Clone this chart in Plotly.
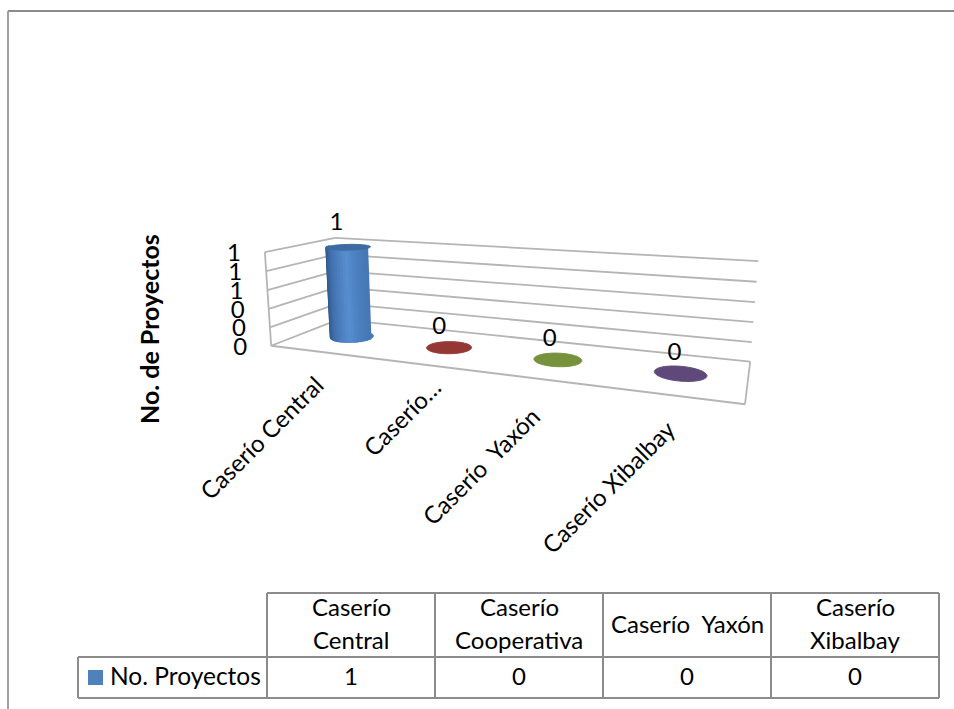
import numpy as np
import plotly.graph_objects as go

# ---------- data ----------
categories = ["Caserío Central", "Caserío Cooperativa", "Caserío\u00a0 Yaxón", "Caserío Xibalbay"]
axis_labels = ["Caserío Central", "Caserío…", "Caserío\u00a0 Yaxón", "Caserío Xibalbay"]
header_lines = [["Caserío", "Central"], ["Caserío", "Cooperativa"], ["Caserío\u00a0 Yaxón"], ["Caserío", "Xibalbay"]]
values = [1, 0, 0, 0]
series_name = "No. Proyectos"
axis_title = "No. de Proyectos"
ticks = [0, 0.2, 0.4, 0.6, 0.8, 1.0]

# ---------- style / layout ----------
FONT = "Lato"
TXT = "#000000"
GRID = "#b5b5b5"
BORDER = "#8c8c8c"
top_colors = ["#3c6ba3", "#953735", "#76923C", "#5F497A"]
label_offsets = [(-12, -23), (-10, -19), (-8, -20), (-6, -19)]
label_centers = [(261, 437), (401, 417), (480, 466), (608, 486)]
FS = 24

# perspective of the plot box, fitted to its corners (u, depth, value) -> pixel
box = [((0, 0, 0), (273, 346)), ((1, 0, 0), (745, 404)), ((1, 1, 0), (750.5, 362)),
       ((0, 1, 0), (337, 319)), ((0, 0, 1), (263, 252)), ((0, 1, 1), (337, 238)),
       ((1, 1, 1), (758, 261))]
A = []
for (X, Y, Z), (px, py) in box:
    px, py = px / 1000, py / 1000
    A.append([X, Y, Z, 1, 0, 0, 0, 0, -px * X, -px * Y, -px * Z, -px])
    A.append([0, 0, 0, 0, X, Y, Z, 1, -py * X, -py * Y, -py * Z, -py])
M = np.linalg.svd(np.array(A, float))[2][-1].reshape(3, 4)


def proj(u, d, z):
    u, d, z = np.broadcast_arrays(np.asarray(u, float), np.asarray(d, float), np.asarray(z, float))
    h = M @ np.stack([u, d, z, np.ones_like(u)])
    return h[0] / h[2] * 1000, h[1] / h[2] * 1000


def poly(xs, ys, color, lw=1.0):
    return go.Scatter(x=xs, y=ys, mode="lines", fill="toself", fillcolor=color,
                      line=dict(color=color, width=lw, simplify=False),
                      hoverinfo="skip", showlegend=False)


def mix(stops, t):
    pos = [s[0] for s in stops]
    ch = [np.interp(t, pos, [s[1][i] for s in stops]) for i in range(3)]
    return "rgb(%d,%d,%d)" % tuple(int(c) for c in ch)


shade = [(0, (70, 120, 182)), (0.28, (88, 142, 208)), (0.65, (66, 114, 176)), (1, (42, 82, 128))]

fig = go.Figure()

# walls and floor
gx, gy = [], []


def seg(a, b):
    xs, ys = proj([a[0], b[0]], [a[1], b[1]], [a[2], b[2]])
    gx.extend(list(xs) + [None])
    gy.extend(list(ys) + [None])


for t in ticks:
    seg((0, 0, t), (0, 1, t))
    seg((0, 1, t), (1, 1, t))
seg((0, 0, 0), (0, 0, 1))
seg((0, 0, 0), (1, 0, 0))
seg((1, 0, 0), (1, 1, 0))
fig.add_trace(go.Scatter(x=gx, y=gy, mode="lines", line=dict(color=GRID, width=1.8),
                         hoverinfo="skip", showlegend=False))

# cylinders
ru, rd = 0.05, 0.18
theta = np.linspace(0, 2 * np.pi, 73)
front = np.linspace(np.pi, 2 * np.pi, 25)
for i, v in enumerate(values):
    uc = (i + 0.5) / len(values)
    if v > 0:
        bx, by = proj(uc + ru * np.cos(theta), 0.5 + rd * np.sin(theta), 0 * theta)
        fig.add_trace(poly(bx, by, mix(shade, 0.5)))
        for k in range(len(front) - 1):
            a = np.array([front[k], front[k + 1], front[k + 1], front[k]])
            zz = np.array([0, 0, v, v], float)
            sx, sy = proj(uc + ru * np.cos(a), 0.5 + rd * np.sin(a), zz)
            t = (1 - np.cos((front[k] + front[k + 1]) / 2)) / 2
            fig.add_trace(poly(sx, sy, mix(shade, t), lw=1.5))
    ex, ey = proj(uc + ru * np.cos(theta), 0.5 + rd * np.sin(theta), v + 0 * theta)
    fig.add_trace(poly(ex, ey, top_colors[i]))

# data labels
cx, cy = proj([(i + 0.5) / len(values) for i in range(len(values))], 0.5, values)
fig.add_trace(go.Scatter(x=[a + o[0] for a, o in zip(cx, label_offsets)],
                         y=[b + o[1] for b, o in zip(cy, label_offsets)],
                         mode="text", text=[str(v) for v in values],
                         textfont=dict(family=FONT, size=FS, color=TXT),
                         hoverinfo="skip", showlegend=False))

# value axis tick labels
tx, ty = proj(0, 0, ticks)
fig.add_trace(go.Scatter(x=tx - 31, y=ty + 3, mode="text", text=[f"{t:.0f}" for t in ticks],
                         textfont=dict(family=FONT, size=FS, color=TXT),
                         hoverinfo="skip", showlegend=False))

ann = []


def note(x, y, text, size=FS, angle=0, anchor="center", bold=False):
    ann.append(dict(x=x, y=y, xref="x", yref="y", text=f"<b>{text}</b>" if bold else text,
                    showarrow=False, textangle=angle, xanchor=anchor, yanchor="middle",
                    font=dict(family=FONT, size=size, color=TXT)))


note(149, 329, axis_title, size=25, angle=-90, bold=True)
for (x, y), lab in zip(label_centers, axis_labels):
    note(x, y, lab, angle=-45)

# data table
col_x = [267, 435, 603, 771, 939]
row_y = [593, 657, 698]
left_x = 78
shapes = []


def line(x0, y0, x1, y1, color=BORDER, w=2):
    shapes.append(dict(type="line", xref="x", yref="y", x0=x0, y0=y0, x1=x1, y1=y1,
                       line=dict(color=color, width=w)))


for x in col_x:
    line(x, row_y[0], x, row_y[2])
line(col_x[0], row_y[0], col_x[-1], row_y[0])
line(left_x, row_y[1], col_x[-1], row_y[1])
line(left_x, row_y[2], col_x[-1], row_y[2])
line(left_x, row_y[1], left_x, row_y[2])
shapes.append(dict(type="rect", xref="x", yref="y", x0=88, x1=103, y0=670, y1=685,
                   fillcolor="#4F81BD", line=dict(width=0)))
# outer frame of the picture
line(8, 11, 954, 11, "#8a8a8a", 2)
line(8, 11, 8, 709, "#a0a0a0", 2)

note(108, 675, series_name, size=24.5, anchor="left")
for i, lines in enumerate(header_lines):
    xc = (col_x[i] + col_x[i + 1]) / 2
    if len(lines) == 1:
        note(xc, 623, lines[0])
    else:
        note(xc, 606, lines[0])
        note(xc, 639, lines[1])
    note(xc, 675, str(values[i]))

fig.update_layout(
    width=954, height=709, autosize=False,
    margin=dict(l=0, r=0, t=0, b=0),
    paper_bgcolor="white", plot_bgcolor="white",
    showlegend=False, annotations=ann, shapes=shapes,
    xaxis=dict(range=[0, 954], visible=False, fixedrange=True),
    yaxis=dict(range=[709, 0], visible=False, fixedrange=True),
)
fig.write_html("out.html", config={"displayModeBar": False},
               post_script="document.body.style.margin='0';document.body.style.overflow='hidden';")
